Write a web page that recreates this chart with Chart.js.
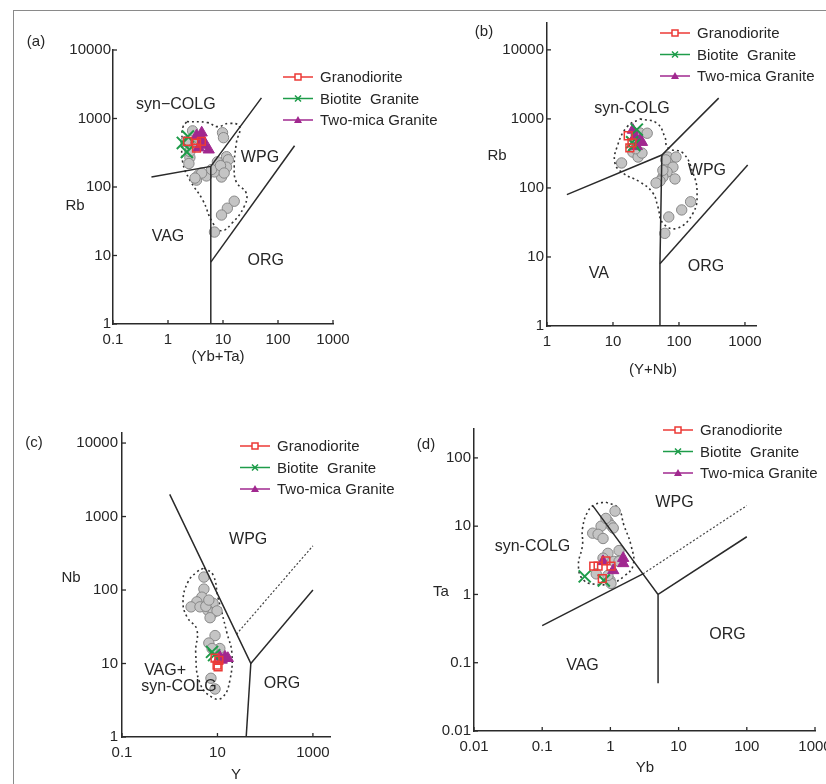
<!DOCTYPE html>
<html>
<head>
<meta charset="utf-8">
<script src="https://cdn.jsdelivr.net/npm/chart.js@4.4.1/dist/chart.umd.min.js"></script>
<style>
html,body{margin:0;padding:0;background:#fff;}
body{width:826px;height:784px;overflow:hidden;position:relative;}
#frame{position:absolute;left:13px;top:10px;width:830px;height:790px;border-top:1.5px solid #8a8a8a;border-left:1.5px solid #8a8a8a;}
canvas{position:absolute;left:0;top:0;}
</style>
</head>
<body>
<div id="frame"></div>
<canvas id="ca" width="900" height="784"></canvas>
<canvas id="cb" width="900" height="784"></canvas>
<canvas id="cc" width="900" height="784"></canvas>
<canvas id="cd" width="900" height="784"></canvas>
<script>
const FONT = '"Liberation Sans", Arial, sans-serif';
const RED = '#ec3a36', GREEN = '#1e9c4a', PURPLE = '#a1288f';
const AX = '#2a2a2a', TXT = '#262626';
const series = ['Granodiorite', 'Biotite  Granite', 'Two-mica Granite'];

// ---- (a) Rb vs (Yb+Ta)
const xTicksA = [0.1, 1, 10, 100, 1000];
const yTicksA = [1, 10, 100, 1000, 10000];
const grayA = [[2.8,660],[2.5,420],[2.5,270],[2.4,220],[9.8,620],[10.2,525],[11.6,277],[12.5,250],[7.9,233],[8.6,178],[11.6,195],[9.4,140],[7,166],[3.6,150],[3.3,126],[5,145],[4.1,160],[3.1,135],[16,62],[12,49],[9.4,39],[7,22],[2.1,460],[2.5,330],[3.8,490],[6.2,180],[9,205],[10.5,160]];
const grdA = [[2.26,464],[3.3,438],[4.05,464],[3.3,370]];
const btA = [[2.3,545],[2.2,325],[1.86,440]];
const tmA = [[3.3,560],[4.1,620],[4.6,410],[5.5,350],[3.6,375],[4.3,490]];
const envA = [[2.2,900],[5.3,870],[7.9,760],[13,850],[20,760],[17.5,440],[16,200],[17.5,118],[26.5,81],[24,51],[14.8,30],[9.4,23],[6.5,30],[4.3,64],[2.5,126],[1.86,225],[1.8,490],[1.86,740]];
const bndA = [[[0.5,140],[6,200],[50,2000]], [[6,1],[6,200]], [[6,8],[200,400]]];

// ---- (b) Rb vs (Y+Nb)
const xTicksB = [1, 10, 100, 1000];
const yTicksB = [1, 10, 100, 1000, 10000];
const grayB = [[13.5,230],[25.6,625],[33,620],[20,330],[24,280],[27.5,320],[68,280],[90,280],[68,230],[81,200],[66,170],[87,135],[57,144],[51.5,126],[45,118],[150,63],[110,48],[70,38],[61,22],[63,255],[57,180],[22,370]];
const grdB = [[17,570],[19.4,450],[18,380]];
const btB = [[19.5,460],[21,420],[23,700]];
const tmB = [[20,690],[21.5,560],[25.6,500],[23,400],[27.5,460]];
const envB = [[25.6,1000],[46,870],[61,550],[68,380],[115,320],[163,165],[188,85],[163,43],[93,26],[57,31],[48,53],[40,85],[25.6,122],[14,165],[10.7,230],[11.5,390],[16.3,765]];
const bndB = [[[2,80],[55,300],[400,2000]], [[50,1],[51.5,8],[55,300]], [[51.5,8],[1100,215]]];

// ---- (c) Nb vs Y
const xTicksC = [0.1, 10, 1000];
const yTicksC = [1, 10, 100, 1000, 10000];
const grayC = [[5.2,150],[5.2,103],[4.7,80],[3.7,69],[2.8,59],[8.1,66],[6.3,53],[8.1,49],[9.8,52],[7,42],[4.3,59],[5.7,60],[6.6,73],[8.9,24],[6.6,19],[11.2,16],[7.7,16],[7.3,6.3],[8.9,4.5]];
const grdC = [[9.8,9.5],[10.7,11],[10.3,9],[8.9,11.8]];
const btC = [[7.7,14.4],[8.5,13]];
const tmC = [[11.2,12.3],[14.4,12.3],[16.5,11.8],[12.3,11.2]];
const envC = [[5.2,200],[8.1,160],[10.2,80],[12.4,49],[15.8,26],[20,14],[18.3,6],[13,3.5],[8.1,3.4],[4.3,5.4],[3.5,14],[3.7,29],[2.3,43],[1.9,70],[2.4,128],[3.7,176]];
const bndC = [[[1,2000],[50,10],[40,1]], [[50,10],[1000,100]]];
const dashC = [[[25,25],[1000,400]]];

// ---- (d) Ta vs Yb
const xTicksD = [0.01, 0.1, 1, 10, 100, 1000];
const yTicksD = [0.01, 0.1, 1, 10, 100];
const grayD = [[1.17,16.6],[0.92,11.8],[1.02,10.3],[0.73,10],[0.55,7.9],[0.66,7.6],[0.78,6.6],[0.86,13],[1.1,9.4],[0.92,4.0],[1.34,4.4],[0.78,3.4],[1.13,3.05],[1.34,3.05],[0.99,1.6],[1.02,1.45],[0.92,1.9],[0.62,2.0]];
const grdD = [[0.57,2.6],[0.66,2.6],[0.86,3.1],[1.02,2.6],[0.76,1.7]];
const btD = [[0.42,1.84],[0.8,1.6]];
const tmD = [[0.78,3.05],[1.1,2.25],[1.54,3.4],[1.54,2.85]];
const envD = [[0.86,22.5],[1.3,18.4],[1.58,10.3],[2,5.3],[2.16,2.7],[1.58,1.84],[1.02,1.45],[0.66,1.4],[0.41,1.6],[0.34,2.6],[0.39,5.3],[0.39,9.3],[0.47,16.6],[0.61,21]];
const bndD = [[[0.55,20],[5,1],[5,0.05]], [[0.1,0.35],[3,2]], [[5,1],[100,7]]];
const dashD = [[[3,2],[100,20]]];

function pts(a) { return a.map(p => ({x: p[0], y: p[1]})); }

function makeDecor(cfg) {
  return {
    id: 'decor',
    afterDraw(chart) {
      const ctx = chart.ctx, xs = chart.scales.x, ys = chart.scales.y, ca = chart.chartArea;
      ctx.save();
      ctx.strokeStyle = AX; ctx.lineWidth = 1.3;
      cfg.xt.forEach(v => {
        const X = xs.getPixelForValue(v);
        ctx.beginPath(); ctx.moveTo(X, ca.bottom); ctx.lineTo(X, ca.bottom - 4); ctx.stroke();
      });
      cfg.yt.forEach(v => {
        const Y = ys.getPixelForValue(v);
        ctx.beginPath(); ctx.moveTo(ca.left, Y); ctx.lineTo(ca.left + 4, Y); ctx.stroke();
      });
      ctx.fillStyle = TXT; ctx.textAlign = 'center'; ctx.textBaseline = 'middle';
      ctx.font = '16px ' + FONT;
      cfg.regions.forEach(r => ctx.fillText(r.t, xs.getPixelForValue(r.x), ys.getPixelForValue(r.y)));
      ctx.font = '15px ' + FONT;
      cfg.titles.forEach(r => ctx.fillText(r.t, r.x, r.y));
      // legend
      const cols = [RED, GREEN, PURPLE];
      cols.forEach((c, i) => {
        const lx = cfg.leg.x, ly = cfg.leg.y + i * 21.5;
        ctx.strokeStyle = c; ctx.fillStyle = c; ctx.lineWidth = 1.5;
        ctx.beginPath(); ctx.moveTo(lx, ly); ctx.lineTo(lx + 30, ly); ctx.stroke();
        const mx = lx + 15;
        if (i === 0) { ctx.fillStyle = '#fff'; ctx.fillRect(mx - 3, ly - 3, 6, 6); ctx.strokeRect(mx - 3, ly - 3, 6, 6); }
        else if (i === 1) { ctx.beginPath(); ctx.moveTo(mx - 3, ly - 3); ctx.lineTo(mx + 3, ly + 3); ctx.moveTo(mx + 3, ly - 3); ctx.lineTo(mx - 3, ly + 3); ctx.stroke(); }
        else { ctx.beginPath(); ctx.moveTo(mx, ly - 4); ctx.lineTo(mx + 4, ly + 3); ctx.lineTo(mx - 4, ly + 3); ctx.closePath(); ctx.fill(); }
        ctx.fillStyle = TXT; ctx.textAlign = 'left'; ctx.font = '15px ' + FONT;
        ctx.fillText(series[i], lx + 37, ly + 1);
      });
      ctx.restore();
    }
  };
}

function makePanel(id, cfg) {
  const ds = [];
  ds.push({label: series[0], data: pts(cfg.grd), pointStyle: 'rect', pointRadius: 5.5, borderColor: RED, backgroundColor: 'rgba(0,0,0,0)', borderWidth: 1.5, order: 0});
  ds.push({label: series[1], data: pts(cfg.bt), pointStyle: 'crossRot', pointRadius: 8.5, borderColor: GREEN, backgroundColor: GREEN, borderWidth: 2, order: 0});
  ds.push({label: series[2], data: pts(cfg.tm), pointStyle: 'triangle', pointRadius: 6.5, borderColor: PURPLE, backgroundColor: PURPLE, borderWidth: 1, order: 0});
  cfg.bnd.forEach(b => ds.push({data: pts(b), showLine: true, pointRadius: 0, borderColor: AX, borderWidth: 1.5, order: 1}));
  (cfg.dash || []).forEach(b => ds.push({data: pts(b), showLine: true, pointRadius: 0, borderColor: '#444', borderWidth: 1.2, borderDash: [2, 2], order: 1}));
  ds.push({data: pts(cfg.gray), pointStyle: 'circle', pointRadius: 5.2, borderColor: '#888', backgroundColor: '#c4c4c4', borderWidth: 1, order: 2});
  ds.push({data: pts(cfg.env.concat([cfg.env[0]])), showLine: true, pointRadius: 0, borderColor: '#333', borderWidth: 1.6, borderDash: [2, 3], tension: 0.45, order: 3});

  const A = cfg.area;
  const axisOpts = (r, tv, pad, fit) => ({
    type: 'logarithmic', min: r[0], max: r[1], bounds: 'data',
    grid: {display: false, drawTicks: false},
    border: {display: true, color: AX, width: 1.5},
    ticks: {autoSkip: false, maxRotation: 0, padding: pad, color: TXT, font: {family: FONT, size: 15},
      callback: (v, i) => String(tv[i])},
    afterBuildTicks: s => { s.ticks = tv.map(v => ({value: v})); },
    afterFit: fit
  });

  new Chart(document.getElementById(id), {
    type: 'scatter',
    data: {datasets: ds},
    options: {
      responsive: false, animation: false, events: [],
      layout: {padding: {left: A.l - 60, right: 900 - A.r, top: A.t, bottom: 784 - A.b - 40}},
      plugins: {legend: {display: false}, tooltip: {enabled: false}},
      scales: {
        x: axisOpts(cfg.xr, cfg.xt, 7, s => { s.height = 40; }),
        y: axisOpts(cfg.yr, cfg.yt, cfg.ypad, s => { s.width = 60; })
      }
    },
    plugins: [makeDecor(cfg)]
  });
}

makePanel('ca', {
  area: {l: 113, r: 333, t: 50, b: 324}, xr: [0.1, 1000], yr: [1, 10000], xt: xTicksA, yt: yTicksA, ypad: 2,
  gray: grayA, grd: grdA, bt: btA, tm: tmA, env: envA, bnd: bndA,
  regions: [{t: 'syn\u2212COLG', x: 1.39, y: 1600}, {t: 'WPG', x: 47, y: 267}, {t: 'VAG', x: 1, y: 19}, {t: 'ORG', x: 60, y: 8.4}],
  titles: [{t: '(a)', x: 36, y: 42}, {t: 'Rb', x: 75, y: 206}, {t: '(Yb+Ta)', x: 218, y: 357}],
  leg: {x: 283, y: 77}
});
makePanel('cb', {
  area: {l: 547, r: 756, t: 23, b: 326}, xr: [1, 1470], yr: [1, 24500], xt: xTicksB, yt: yTicksB, ypad: 3,
  gray: grayB, grd: grdB, bt: btB, tm: tmB, env: envB, bnd: bndB,
  regions: [{t: 'syn-COLG', x: 19.4, y: 1400}, {t: 'WPG', x: 265, y: 177}, {t: 'VA', x: 6.1, y: 5.7}, {t: 'ORG', x: 257, y: 7.2}],
  titles: [{t: '(b)', x: 484, y: 32}, {t: 'Rb', x: 497, y: 156}, {t: '(Y+Nb)', x: 653, y: 370}],
  leg: {x: 660, y: 33}
});
makePanel('cc', {
  area: {l: 122, r: 330, t: 433, b: 737}, xr: [0.1, 2280], yr: [1, 13700], xt: xTicksC, yt: yTicksC, ypad: 4,
  gray: grayC, grd: grdC, bt: btC, tm: tmC, env: envC, bnd: bndC, dash: dashC,
  regions: [{t: 'WPG', x: 44, y: 480}, {t: 'VAG+', x: 0.8, y: 7.9}, {t: 'syn-COLG', x: 1.56, y: 4.8}, {t: 'ORG', x: 224, y: 5.4}],
  titles: [{t: '(c)', x: 34, y: 443}, {t: 'Nb', x: 71, y: 578}, {t: 'Y', x: 236, y: 775}],
  leg: {x: 240, y: 446}
});
makePanel('cd', {
  area: {l: 474, r: 815, t: 429, b: 731}, xr: [0.01, 1000], yr: [0.01, 265], xt: xTicksD, yt: yTicksD, ypad: 3,
  gray: grayD, grd: grdD, bt: btD, tm: tmD, env: envD, bnd: bndD, dash: dashD,
  regions: [{t: 'WPG', x: 8.7, y: 22}, {t: 'syn-COLG', x: 0.072, y: 5.1}, {t: 'VAG', x: 0.39, y: 0.091}, {t: 'ORG', x: 52, y: 0.26}],
  titles: [{t: '(d)', x: 426, y: 445}, {t: 'Ta', x: 441, y: 592}, {t: 'Yb', x: 645, y: 768}],
  leg: {x: 663, y: 430}
});
</script>
</body>
</html>
